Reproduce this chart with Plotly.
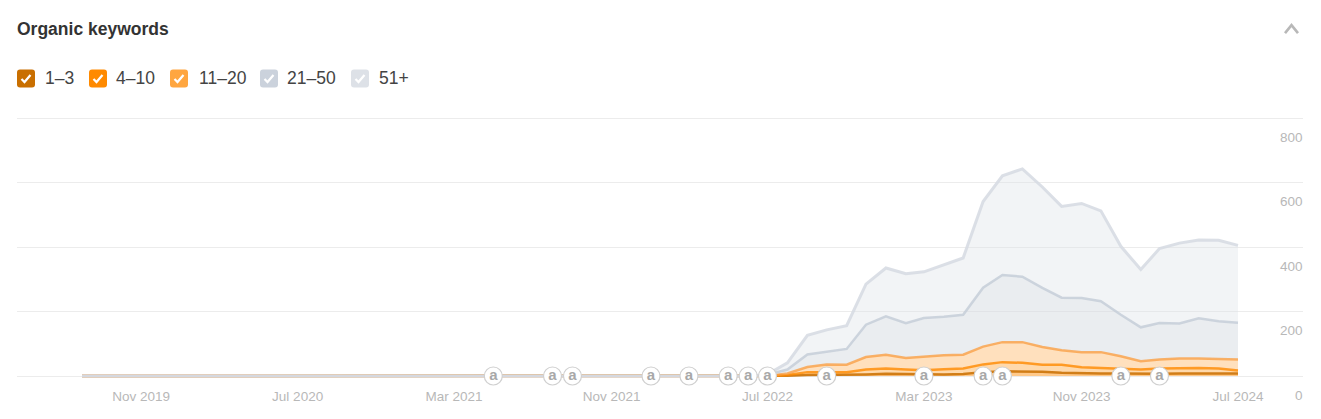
import numpy as np
import pandas as pd
import plotly.graph_objects as go

months = pd.date_range("2019-08-01", "2024-07-01", freq="MS")

# keywords per position band, one value a month from Aug 2019
pos_1_3 = [0, 0, 0, 0, 0, 0, 0, 0, 0, 0, 0, 0, 0, 0, 0, 0, 0, 0, 0, 0, 0, 0, 0, 0, 0, 0, 0, 0, 0, 0, 0, 0, 0, 0, 0, 0,
           1, 3, 3, 3, 5, 7, 6, 5, 5, 6, 12, 15, 15, 13, 10, 8, 8, 8, 7, 7, 8, 8, 8, 8]
pos_4_10 = [0, 0, 0, 0, 0, 0, 0, 0, 0, 0, 0, 0, 0, 0, 0, 0, 0, 0, 0, 0, 0, 0, 0, 0, 0, 0, 0, 0, 0, 0, 0, 0, 0, 0, 0, 0,
            2, 9, 9, 9, 15, 16, 14, 13, 16, 17, 24, 28, 26, 22, 25, 19, 17, 15, 13, 16, 16, 17, 15, 9]
pos_11_20 = [0, 0, 0, 0, 0, 0, 0, 0, 0, 0, 0, 0, 0, 0, 0, 0, 0, 0, 0, 0, 0, 0, 0, 0, 0, 0, 0, 0, 0, 0, 0, 0, 0, 0, 0, 0,
             5, 16, 24, 23, 39, 43, 36, 42, 43, 43, 55, 62, 64, 55, 45, 47, 49, 38, 26, 28, 30, 29, 29, 34]
pos_21_50 = [0, 0, 0, 0, 0, 0, 0, 0, 0, 0, 0, 0, 0, 0, 0, 0, 0, 0, 0, 0, 0, 0, 0, 0, 0, 0, 0, 0, 0, 0, 0, 0, 0, 0, 0, 4,
             12, 39, 39, 49, 100, 119, 108, 120, 120, 124, 183, 208, 203, 183, 163, 168, 158, 129, 105, 113, 109, 125, 118, 114]
pos_51_plus = [0, 0, 0, 0, 0, 0, 0, 0, 0, 0, 0, 0, 0, 0, 0, 0, 0, 0, 0, 0, 0, 0, 0, 0, 0, 0, 0, 0, 0, 0, 0, 0, 0, 0, 0, 1,
               21, 59, 68, 72, 126, 150, 153, 143, 160, 176, 267, 308, 334, 313, 283, 293, 280, 212, 179, 231, 249, 243, 251, 240]

band_names = ["1–3", "4–10", "11–20", "21–50", "51+"]
box_colors = ["#c96f00", "#ff8a00", "#ffa640", "#cbd2dc", "#dde1e7"]
line_colors = ["rgba(201,111,0,0.85)", "rgba(255,138,0,0.8)", "rgba(250,160,70,0.8)",
               "rgba(198,206,216,0.85)", "rgba(214,219,226,0.88)"]
line_widths = [2.5, 2.5, 2.5, 2.5, 3]
fill_colors = ["#ffc98a", "#ffd9ab", "#ffe0bd", "rgba(203,210,220,0.2)", "rgba(221,225,231,0.38)"]

x_tick_dates = ["2019-11-01", "2020-07-01", "2021-03-01", "2021-11-01", "2022-07-01", "2023-03-01", "2023-11-01", "2024-07-01"]
x_tick_labels = ["Nov 2019", "Jul 2020", "Mar 2021", "Nov 2021", "Jul 2022", "Mar 2023", "Nov 2023", "Jul 2024"]
y_ticks = [0, 200, 400, 600, 800]

note_dates = ["2021-05-01", "2021-08-01", "2021-09-01", "2022-01-01", "2022-03-01", "2022-05-01", "2022-06-01",
              "2022-07-01", "2022-10-01", "2023-03-01", "2023-06-01", "2023-07-01", "2024-01-01", "2024-03-01"]

PLOT_L, PLOT_R, PLOT_T, PLOT_B = 17, 1303, 116, 378.5
Y_MIN, Y_MAX = -6.2, 806.2  # a little past 0 and 800 so both edge gridlines get drawn


def px_x(x):
    return (x - PLOT_L) / (PLOT_R - PLOT_L)


def px_y(y):
    return (PLOT_B - y) / (PLOT_B - PLOT_T)


tops = np.cumsum([pos_1_3, pos_4_10, pos_11_20, pos_21_50, pos_51_plus], axis=0)

fig = go.Figure()
# fills from the top of the stack down, then lines over them
for i in reversed(range(5)):
    fig.add_trace(go.Scatter(
        x=months, y=tops[i], mode="none", fill="tozeroy", fillcolor=fill_colors[i],
        showlegend=False, hoverinfo="skip",
    ))
for i in range(5):
    fig.add_trace(go.Scatter(
        x=months, y=tops[i], name=band_names[i], mode="lines",
        line={"color": line_colors[i], "width": line_widths[i]}, cliponaxis=False, showlegend=False,
    ))

fig.add_trace(go.Scatter(
    x=note_dates, y=[0] * len(note_dates), mode="markers+text", text=["a"] * len(note_dates),
    textposition="middle center", textfont={"family": "Liberation Sans", "size": 15, "color": "#a8a8a8", "weight": "bold"},
    marker={"size": 18, "color": "white", "line": {"color": "#d0d0d0", "width": 1.2}},
    cliponaxis=False, showlegend=False, hoverinfo="skip",
))

shapes = []
annotations = [
    {"text": "<b>Organic keywords</b>", "x": px_x(15), "y": px_y(29), "xref": "paper", "yref": "paper",
     "xanchor": "left", "yanchor": "middle", "showarrow": False, "font": {"size": 17.5, "color": "#333333"}},
]

# hand-built legend, plotly has no checkbox legend
box_x = [17, 89, 170, 260, 351]
label_x = [43, 114, 197, 285, 377]
for bx, lx, name, color in zip(box_x, label_x, band_names, box_colors):
    x0, x1, y0, y1 = px_x(bx), px_x(bx + 18), px_y(69.5), px_y(87.5)
    r_x, r_y = px_x(bx + 3) - px_x(bx), px_y(69.5) - px_y(72.5)
    shapes.append({
        "type": "path", "xref": "paper", "yref": "paper", "fillcolor": color, "line": {"width": 0},
        "path": f"M {x0 + r_x} {y0} L {x1 - r_x} {y0} Q {x1} {y0} {x1} {y0 - r_y} L {x1} {y1 + r_y} "
                f"Q {x1} {y1} {x1 - r_x} {y1} L {x0 + r_x} {y1} Q {x0} {y1} {x0} {y1 + r_y} L {x0} {y0 - r_y} "
                f"Q {x0} {y0} {x0 + r_x} {y0} Z",
    })
    shapes.append({
        "type": "path", "xref": "paper", "yref": "paper", "line": {"color": "white", "width": 2.2},
        "path": f"M {px_x(bx + 4.5)} {px_y(79)} L {px_x(bx + 7.5)} {px_y(82)} L {px_x(bx + 13.5)} {px_y(75)}",
    })
    annotations.append({"text": name, "x": px_x(lx), "y": px_y(78), "xref": "paper", "yref": "paper",
                        "xanchor": "left", "yanchor": "middle", "showarrow": False,
                        "font": {"size": 17.5, "color": "#444444"}})

# collapse chevron
shapes.append({"type": "path", "xref": "paper", "yref": "paper", "line": {"color": "#b8b8b8", "width": 2.6},
               "path": f"M {px_x(1285)} {px_y(33)} L {px_x(1291.5)} {px_y(25)} L {px_x(1298)} {px_y(33)}"})

# y labels sit under their gridlines, at the right edge
for v in y_ticks:
    annotations.append({"text": str(v), "x": 1, "y": v, "xref": "paper", "yref": "y", "xanchor": "right",
                        "yanchor": "middle", "xshift": 2, "yshift": -19, "showarrow": False,
                        "font": {"size": 13.5, "color": "#b8b8b8"}})

fig.update_layout(
    width=1321, height=419, autosize=False,
    margin={"l": PLOT_L, "r": 1321 - PLOT_R, "t": PLOT_T, "b": 419 - PLOT_B, "pad": 0},
    paper_bgcolor="white", plot_bgcolor="white",
    font={"family": "Liberation Sans, Arial, sans-serif"},
    showlegend=False, shapes=shapes, annotations=annotations,
    xaxis={"type": "date", "range": ["2019-04-22", "2024-10-10"], "tickvals": x_tick_dates, "ticktext": x_tick_labels,
           "showgrid": False, "zeroline": False, "showline": False, "ticks": "", "tickangle": 0, "ticklabelstandoff": 8,
           "tickfont": {"size": 13.5, "color": "#b8b8b8"}},
    yaxis={"range": [Y_MIN, Y_MAX], "tickvals": y_ticks, "showticklabels": False, "showgrid": True, "gridcolor": "#ececec",
           "gridwidth": 1, "zeroline": False, "showline": False, "ticks": ""},
)

fig.write_html("out.html", post_script="document.body.style.margin='0';", config={"displayModeBar": False})
